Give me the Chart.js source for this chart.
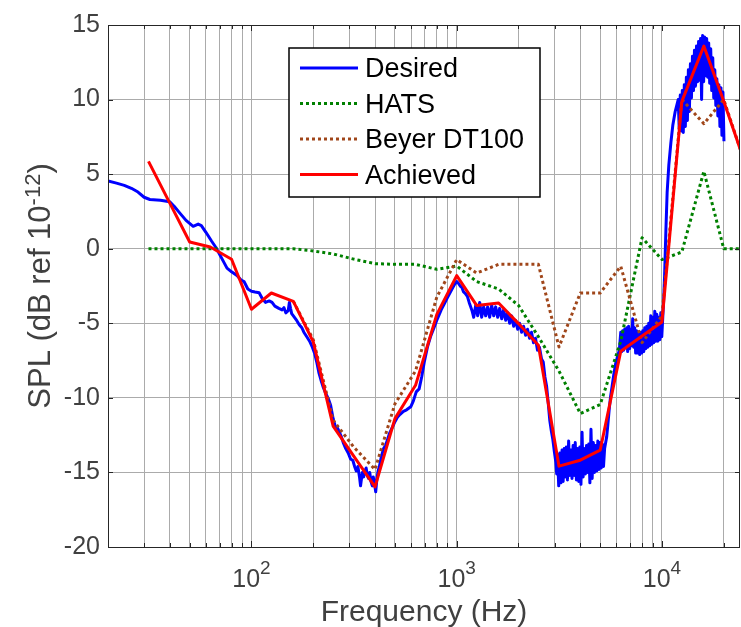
<!DOCTYPE html>
<html>
<head>
<meta charset="utf-8">
<title>SPL response</title>
<script src="https://cdn.jsdelivr.net/npm/chart.js@4.4.1/dist/chart.umd.min.js"></script>
<style>
  html, body { margin: 0; padding: 0; background: #fff; }
  canvas { display: block; }
</style>
</head>
<body>
<canvas id="splChart" width="741" height="627"></canvas>
<script>
// 1/3-octave band centres used by the target curves
const bandHz = [31.5, 40, 50, 63, 80, 100, 125, 160, 200, 250, 315, 400, 500, 630, 800,
    1000, 1250, 1600, 2000, 2500, 3150, 4000, 5000, 6300, 8000, 10000, 12500, 16000, 20000, 25000];

const achievedDb = [5.86, 3.06, 0.45, 0.11, -0.71, -4.06, -2.97, -3.53, -6.25, -11.9, -13.9, -15.97, -11.39, -9.16, -4.4,
    -1.8, -3.8, -3.64, -5.02, -6.47, -14.58, -14.18, -13.51, -6.87, -5.85, -4.91, 9.88, 13.59, 9.88, 6.0];

const hatsDb = [0, 0, 0, 0, 0, 0, 0, 0, -0.15, -0.35, -0.7, -1.0, -1.05, -1.05, -1.38,
    -1.16, -2.2, -2.7, -3.8, -5.9, -8.2, -11.05, -10.45, -6.2, 0.74, -0.73, -0.22, 5.19, 0, 0];

// Beyer curve only departs from the achieved one above 160 Hz
const beyerHz = [160, 200, 250, 315, 400, 500, 630, 800, 1000, 1250, 1600, 2000, 2500, 3150,
    4000, 5000, 6300, 8000, 10000, 12500, 16000, 20000, 25000];
const beyerDb = [-3.53, -6.1, -11.5, -13.3, -14.8, -10.4, -8.2, -3.24, -0.73, -1.63, -1.05, -1.05, -1.05, -6.59,
    -2.97, -2.97, -1.18, -6.3, -4.5, 10.01, 8.38, 10.0, 6.0];

// Measured target response [Hz, dB]
const desiredPts = [
    [20, 4.55], [22, 4.4], [24, 4.25], [26, 4.05], [28, 3.8], [30, 3.45], [32, 3.3], [36, 3.25], [40, 3.15], [42, 2.85],
    [45, 2.35], [48, 1.9], [52, 1.5], [55, 1.65], [57, 1.55], [60, 1.1], [64, 0.5], [67, 0.1], [72, -0.7], [76, -1.3],
    [80, -1.55], [85, -1.8], [89, -2.1], [92, -2.2], [96, -2.7], [100, -2.85], [104, -2.9], [109, -2.95], [113, -3.35], [117, -3.6],
    [122, -3.5], [126, -3.6], [130, -3.85], [136, -4.0], [141, -4.1], [144, -3.95], [147, -4.3], [151, -4.15], [153, -3.6], [155, -4.0],
    [157, -4.35], [160, -4.5], [165, -4.75], [171, -5.1], [176, -5.3], [180, -5.6], [186, -5.9], [192, -6.2], [198, -6.6], [203, -7.0],
    [208, -7.6], [213, -8.3], [218, -8.8], [224, -9.3], [230, -9.7], [236, -10.0], [243, -10.5], [250, -11.4], [256, -11.9], [262, -12.0],
    [268, -12.3], [274, -12.6], [280, -13.0], [288, -13.4], [296, -13.7], [304, -14.1], [312, -14.2], [318, -14.6], [324, -14.9], [330, -14.6],
    [336, -15.3], [340, -15.9], [343, -15.5], [347, -15.0], [352, -15.3], [357, -14.9], [362, -14.7], [367, -15.2], [372, -15.4], [377, -15.0],
    [382, -15.6], [388, -15.9], [392, -15.3], [396, -15.6], [403, -16.3], [408, -15.5], [414, -14.9], [420, -14.6], [430, -13.9], [440, -13.4],
    [450, -13.2], [460, -12.8], [470, -12.4], [485, -12.0], [500, -11.6], [514, -11.3], [530, -11.1], [550, -10.9], [570, -10.8], [597, -10.6],
    [615, -10.2], [635, -9.6], [656, -9.4], [675, -8.6], [695, -7.6], [720, -6.6], [745, -5.9], [770, -5.4], [805, -4.7], [840, -4.1],
    [870, -3.7], [900, -3.3], [940, -2.8], [975, -2.4], [1000, -2.2], [1017, -2.3], [1040, -2.5], [1060, -2.6], [1080, -2.9], [1100, -3.0],
    [1127, -3.2], [1150, -3.6], [1170, -3.9], [1190, -4.2], [1210, -4.6],
    [1237, -3.8], [1265, -4.5], [1294, -3.6], [1323, -4.6], [1353, -3.9], [1384, -4.5], [1415, -3.9], [1447, -4.6], [1480, -3.8], [1514, -4.5],
    [1548, -3.9], [1583, -4.6], [1619, -4.0], [1656, -4.7], [1693, -4.1], [1732, -4.8], [1771, -4.3], [1811, -5.0], [1852, -4.5], [1894, -5.2],
    [1937, -4.8], [1981, -5.4], [2025, -5.0], [2070, -5.6], [2117, -5.2], [2165, -5.8], [2214, -5.4], [2264, -6.0], [2315, -5.6], [2367, -6.3],
    [2420, -6.0], [2475, -6.8], [2530, -6.6], [2590, -7.4], [2640, -7.6], [2690, -8.6], [2740, -9.2], [2790, -10.3], [2840, -11.5], [2890, -12.2],
    [2940, -12.8], [2990, -13.6], [3040, -14.3], [3070, -15.1],
    // 3.1 - 5.3 kHz: noisy trough
    [3100, -13.8], [3140, -15.9], [3180, -13.7], [3220, -15.7], [3260, -13.5], [3300, -15.6], [3340, -13.4], [3380, -15.3], [3420, -13.3], [3465, -15.5],
    [3510, -12.9], [3555, -15.2], [3600, -13.5], [3645, -15.4], [3690, -13.2], [3735, -15.2], [3780, -13.0], [3830, -15.5], [3880, -13.4], [3930, -15.6],
    [3980, -13.3], [4030, -15.8], [4080, -12.3], [4130, -15.3], [4180, -13.4], [4235, -15.1], [4290, -13.2], [4345, -15.0], [4400, -13.1], [4455, -15.7],
    [4510, -12.1], [4570, -15.4], [4630, -13.0], [4690, -15.0], [4750, -13.2], [4810, -14.9], [4870, -12.9], [4930, -14.8], [4995, -13.0], [5060, -14.7],
    [5125, -13.1], [5190, -14.6], [5255, -13.4],
    [5380, -12.6], [5450, -11.8], [5530, -10.8], [5620, -9.9], [5720, -9.2], [5830, -8.4], [5950, -7.7], [6080, -7.2], [6200, -6.8],
    // 6.3 - 10 kHz
    [6300, -5.6], [6370, -6.9], [6440, -5.5], [6510, -6.8], [6580, -5.4], [6655, -6.6], [6730, -5.3], [6805, -6.9], [6880, -5.2], [6960, -6.7],
    [7040, -5.4], [7120, -6.5], [7200, -4.7], [7280, -6.6], [7360, -5.3], [7445, -7.0], [7530, -5.5], [7615, -7.0], [7700, -5.6], [7790, -7.1],
    [7880, -5.6], [7970, -7.0], [8060, -5.5], [8150, -6.9], [8240, -5.3], [8335, -6.7], [8430, -5.2], [8525, -6.6], [8620, -5.0], [8720, -6.5],
    [8820, -4.5], [8920, -6.4], [9020, -4.6], [9120, -6.3], [9225, -4.2], [9330, -6.2], [9435, -4.4], [9540, -6.2], [9650, -4.6], [9760, -6.1],
    [9870, -4.3], [9980, -5.9], [10090, -4.6],
    [10180, -3.6], [10300, -1.8], [10450, 1.2], [10600, 3.8], [10800, 5.6], [11050, 7.1], [11300, 8.3], [11600, 9.2], [11900, 9.8],
    // 12 - 20 kHz peak
    [12000, 10.0], [12140, 8.0], [12280, 10.3], [12420, 7.9], [12560, 10.6], [12700, 7.8], [12850, 11.0], [13000, 8.2], [13150, 11.5], [13300, 8.6],
    [13450, 12.0], [13600, 9.2], [13760, 12.4], [13920, 10.1], [14080, 12.9], [14240, 10.6], [14400, 13.3], [14570, 10.9], [14740, 13.6], [14910, 11.2],
    [15080, 13.9], [15250, 11.3], [15420, 14.1], [15600, 10.0], [15780, 14.3], [15960, 11.2], [16140, 14.2], [16320, 11.6], [16510, 14.1], [16700, 11.5],
    [16890, 13.8], [17080, 11.1], [17280, 13.4], [17480, 10.6], [17680, 12.8], [17880, 10.1], [18090, 12.0], [18300, 9.6], [18510, 11.4], [18720, 8.9],
    [18940, 11.0], [19160, 8.2], [19380, 10.8], [19600, 7.6], [19820, 10.5], [20050, 7.2]
];

// Axis ticks
const xTickHz = [20, 30, 40, 50, 60, 70, 80, 90, 100, 200, 300, 400, 500, 600, 700, 800, 900,
    1000, 2000, 3000, 4000, 5000, 6000, 7000, 8000, 9000, 10000, 20000];
const xLabelPowers = [2, 3, 4];
const yTickDb = [-20, -15, -10, -5, 0, 5, 10, 15];

const FONT = '"Liberation Sans", Arial, sans-serif';
const AXIS_COLOR = '#262626';
const TEXT_COLOR = '#404040';
const GRID_COLOR = '#ababab';

const seriesStyle = [
    { label: 'Desired', color: '#0000ff', dash: [] },
    { label: 'HATS', color: '#008000', dash: [3, 3] },
    { label: 'Beyer DT100', color: '#a0461a', dash: [3, 3] },
    { label: 'Achieved', color: '#ff0000', dash: [] }
];

function toXY(xs, ys) {
    return xs.map((x, i) => ({ x: x, y: ys[i] }));
}

// draws "base" with a raised smaller "sup" starting at x, returns end x
function drawSup(ctx, base, sup, x, y, size, supSize, raise) {
    ctx.font = size + 'px ' + FONT;
    ctx.fillText(base, x, y);
    x += ctx.measureText(base).width;
    ctx.font = supSize + 'px ' + FONT;
    ctx.fillText(sup, x, y - raise);
    return x + ctx.measureText(sup).width;
}

// Box, inward ticks, axis labels and legend (MATLAB look)
const framePlugin = {
    id: 'frame',
    afterDraw(chart) {
        const ctx = chart.ctx;
        const a = chart.chartArea;
        const xs = chart.scales.x;
        const ys = chart.scales.y;
        ctx.save();

        // axes box
        ctx.strokeStyle = AXIS_COLOR;
        ctx.lineWidth = 1;
        ctx.strokeRect(Math.round(a.left) + 0.5, Math.round(a.top) + 0.5,
            Math.round(a.right - a.left) - 1, Math.round(a.bottom - a.top));

        // inward tick marks
        ctx.beginPath();
        xTickHz.forEach(v => {
            const px = Math.round(xs.getPixelForValue(v)) + 0.5;
            const len = xLabelPowers.includes(Math.log10(v)) ? 6 : 4;
            ctx.moveTo(px, a.bottom); ctx.lineTo(px, a.bottom - len);
            ctx.moveTo(px, a.top); ctx.lineTo(px, a.top + len);
        });
        yTickDb.forEach(v => {
            const py = Math.round(ys.getPixelForValue(v)) + 0.5;
            ctx.moveTo(a.left, py); ctx.lineTo(a.left + 5, py);
            ctx.moveTo(a.right, py); ctx.lineTo(a.right - 5, py);
        });
        ctx.stroke();

        // x tick labels 10^n
        ctx.fillStyle = TEXT_COLOR;
        ctx.textAlign = 'left';
        ctx.textBaseline = 'alphabetic';
        xLabelPowers.forEach(p => {
            const px = xs.getPixelForValue(Math.pow(10, p));
            ctx.font = '25px ' + FONT;
            const w1 = ctx.measureText('10').width;
            ctx.font = '19px ' + FONT;
            const w2 = ctx.measureText(String(p)).width;
            drawSup(ctx, '10', String(p), px - (w1 + w2) / 2, 587, 25, 19, 13);
        });

        // x title
        ctx.font = '30px ' + FONT;
        ctx.textAlign = 'center';
        ctx.fillText('Frequency (Hz)', (a.left + a.right) / 2, 621);

        // y title, rotated
        ctx.save();
        ctx.translate(50, (a.top + a.bottom) / 2);
        ctx.rotate(-Math.PI / 2);
        ctx.textAlign = 'left';
        ctx.font = '31px ' + FONT;
        const m1 = ctx.measureText('SPL (dB ref 10').width;
        const m3 = ctx.measureText(')').width;
        ctx.font = '22px ' + FONT;
        const m2 = ctx.measureText('-12').width;
        let tx = -(m1 + m2 + m3) / 2;
        tx = drawSup(ctx, 'SPL (dB ref 10', '-12', tx, 0, 31, 22, 10);
        ctx.font = '31px ' + FONT;
        ctx.fillText(')', tx, 0);
        ctx.restore();

        // legend
        const box = { left: 289, top: 48, right: 540, bottom: 197 };
        ctx.fillStyle = '#fff';
        ctx.fillRect(box.left, box.top, box.right - box.left, box.bottom - box.top);
        ctx.strokeStyle = '#000';
        ctx.lineWidth = 1.5;
        ctx.strokeRect(box.left, box.top, box.right - box.left, box.bottom - box.top);
        ctx.font = '27px ' + FONT;
        ctx.textAlign = 'left';
        ctx.textBaseline = 'middle';
        seriesStyle.forEach((s, i) => {
            const ry = 68 + i * 35.5;
            ctx.strokeStyle = s.color;
            ctx.lineWidth = 3;
            ctx.setLineDash(s.dash);
            ctx.beginPath();
            ctx.moveTo(300, ry); ctx.lineTo(358, ry);
            ctx.stroke();
            ctx.setLineDash([]);
            ctx.fillStyle = '#000';
            ctx.fillText(s.label, 365, ry + 2);
        });

        ctx.restore();
    }
};

function lineSet(style, data, order) {
    return {
        label: style.label,
        data: data,
        borderColor: style.color,
        backgroundColor: style.color,
        borderWidth: 3,
        borderDash: style.dash,
        borderJoinStyle: 'round',
        pointRadius: 0,
        tension: 0,
        fill: false,
        order: order
    };
}

const splCtx = document.getElementById('splChart').getContext('2d');
const splChart = new Chart(splCtx, {
    type: 'line',
    data: {
        datasets: [
            lineSet(seriesStyle[0], desiredPts.map(p => ({ x: p[0], y: p[1] })), 4),
            lineSet(seriesStyle[1], toXY(bandHz, hatsDb), 3),
            lineSet(seriesStyle[2], toXY(beyerHz, beyerDb), 2),
            lineSet(seriesStyle[3], toXY(bandHz, achievedDb), 1)
        ]
    },
    options: {
        responsive: false,
        animation: false,
        devicePixelRatio: 1,
        layout: { padding: { top: 25, right: 1, left: 0, bottom: 0 } },
        plugins: {
            legend: { display: false },
            tooltip: { enabled: false }
        },
        scales: {
            x: {
                type: 'logarithmic',
                min: 20,
                max: 24000,
                afterBuildTicks: (scale) => {
                    scale.ticks = xTickHz.map(v => ({ value: v }));
                },
                afterFit: (scale) => { scale.height = 80; },
                ticks: { display: false },
                grid: { color: GRID_COLOR, lineWidth: 1, drawTicks: false },
                border: { display: false }
            },
            y: {
                type: 'linear',
                min: -20,
                max: 15,
                afterBuildTicks: (scale) => {
                    scale.ticks = yTickDb.map(v => ({ value: v }));
                },
                afterFit: (scale) => { scale.width = 108; },
                ticks: {
                    color: TEXT_COLOR,
                    font: { family: FONT, size: 25 },
                    padding: 8
                },
                grid: { color: GRID_COLOR, lineWidth: 1, drawTicks: false },
                border: { display: false }
            }
        }
    },
    plugins: [framePlugin]
});
</script>
</body>
</html>
